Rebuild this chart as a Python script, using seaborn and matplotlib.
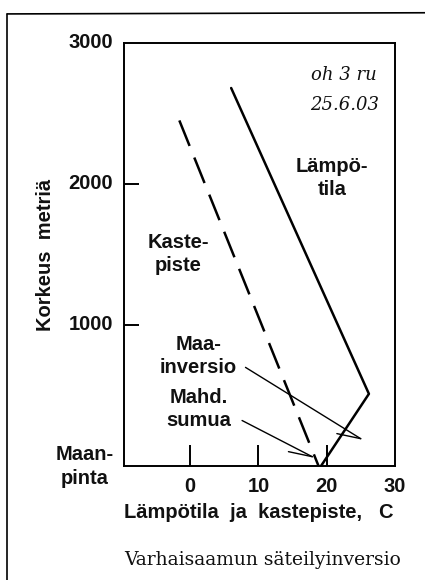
import matplotlib
matplotlib.use('Agg')
import matplotlib.pyplot as plt
import seaborn as sns
from matplotlib.lines import Line2D

# Lämpötila (solid) and kastepiste (dashed) profiles
lampotila_c = [6.0, 26.2, 19.2]
lampotila_m = [2680, 510, 0]
kastepiste_c = [-1.6, 18.8]
kastepiste_m = [2450, 0]

x_ticks = [0, 10, 20, 30]
y_ticks = [1000, 2000, 3000]

sns.set_theme(style='white')
plt.rcParams['font.family'] = ['Liberation Sans', 'DejaVu Sans']

fig = plt.figure(figsize=(4.25, 5.8), dpi=100)
ax = fig.add_axes([0.292, 0.197, 0.637, 0.729])

sns.lineplot(x=lampotila_c, y=lampotila_m, sort=False, estimator=None,
             color='black', linewidth=1.8, ax=ax)
sns.lineplot(x=kastepiste_c, y=kastepiste_m, sort=False, estimator=None,
             color='black', linewidth=1.8, ax=ax, dashes=False)
ax.lines[-1].set_dashes((11, 5))

ax.set_xlim(-9.7, 30)
ax.set_ylim(0, 3000)

for s in ax.spines.values():
    s.set_visible(True)
    s.set_color('black')
    s.set_linewidth(1.4)

# ticks drawn inside, labels outside
ax.set_xticks(x_ticks[:3])
ax.set_xticklabels([])
ax.set_yticks(y_ticks[:2])
ax.set_yticklabels([])
ax.tick_params(axis='x', direction='in', length=15, width=1.4, bottom=True, color='black')
ax.tick_params(axis='y', direction='in', length=11, width=1.4, left=True, color='black')

lbl = dict(fontsize=14.5, fontweight='bold', color='#111111')
for v in x_ticks:
    ax.text(v, -0.05, str(v), transform=ax.get_xaxis_transform(), ha='center', va='center', **lbl)
for v in y_ticks:
    ax.text(-0.04, v, str(v), transform=ax.get_yaxis_transform(), ha='right', va='center', **lbl)
ax.text(-0.145, -3, 'Maan-\npinta', transform=ax.get_yaxis_transform(), ha='center', va='center',
        linespacing=1.35, **lbl)

fig.text(0.107, 0.56, 'Korkeus  metriä', rotation=90, ha='center', va='center', **lbl)
fig.text(0.61, 0.116, 'Lämpötila  ja  kastepiste,   C', ha='center', va='center', **lbl)
fig.text(0.617, 0.035, 'Varhaisaamun säteilyinversio', ha='center', va='center',
         fontsize=13.5, family='DejaVu Serif', color='#111111')

# curve labels
ax.text(20.8, 2040, 'Lämpö-\ntila', ha='center', va='center', linespacing=1.25, **lbl)
ax.text(-1.8, 1500, 'Kaste-\npiste', ha='center', va='center', linespacing=1.25, **lbl)
ax.text(1.2, 780, 'Maa-\ninversio', ha='center', va='center', linespacing=1.25, **lbl)
ax.text(1.2, 400, 'Mahd.\nsumua', ha='center', va='center', linespacing=1.25, **lbl)

# handwritten note
ax.text(22.6, 2770, 'oh 3 ru', ha='center', va='center', fontsize=13,
        family='DejaVu Serif', style='italic', color='#111111')
ax.text(22.6, 2560, '25.6.03', ha='center', va='center', fontsize=13,
        family='DejaVu Serif', style='italic', color='#111111')

# pointer lines with a single barb
ax.plot([8.1, 25.0], [698, 192], color='black', linewidth=1.0)
ax.plot([21.5, 25.0], [228, 192], color='black', linewidth=1.0)
ax.plot([7.6, 17.9], [321, 64], color='black', linewidth=1.0)
ax.plot([14.4, 17.9], [100, 64], color='black', linewidth=1.0)

# scanned page frame (top and left edges)
fig.add_artist(Line2D([0.017, 1.0], [0.976, 0.978], color='black', linewidth=1.2))
fig.add_artist(Line2D([0.017, 0.017], [0.976, 0.0], color='black', linewidth=1.2))

fig.savefig('out.png', dpi=100, facecolor='white')
